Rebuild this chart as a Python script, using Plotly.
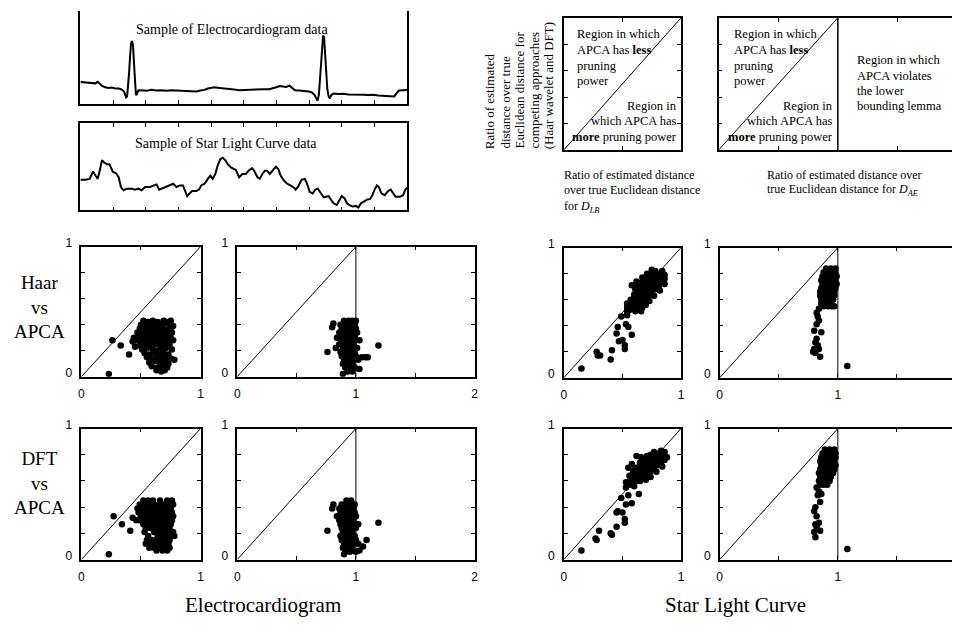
import plotly.graph_objects as go

# ---------------- sample time series ----------------
# time in samples, amplitude in arbitrary units
ecg_t = [0, 15, 30, 46, 53, 59, 66, 76, 86, 96, 106, 117, 127, 134, 140, 143, 146, 149, 152, 155,
         158, 161, 164, 167, 170, 173, 177, 187, 203, 218, 233, 248, 263, 279, 294, 309, 324, 339,
         355, 367, 380, 390, 400, 410, 426, 441, 456, 471, 486, 502, 517, 532, 547, 562, 578, 590,
         600, 610, 620, 630, 640, 648, 657, 669, 684, 699, 709, 717, 723, 726, 730, 733, 737, 740,
         743, 746, 749, 752, 756, 760, 764, 768, 775, 790, 805, 821, 836, 851, 866, 881, 897, 912,
         927, 942, 952, 961, 968, 975, 988, 1000]
ecg_v = [0.67, 0.66, 0.64, 0.63, 0.68, 0.61, 0.55, 0.51, 0.49, 0.50, 0.47, 0.47, 0.44, 0.37, 0.20,
         0.23, 0.50, 0.95, 1.45, 1.85, 1.93, 1.80, 1.25, 0.60, 0.27, 0.30, 0.41, 0.42, 0.40, 0.43,
         0.41, 0.42, 0.40, 0.42, 0.41, 0.39, 0.40, 0.37, 0.38, 0.41, 0.43, 0.47, 0.50, 0.51, 0.49,
         0.48, 0.45, 0.44, 0.42, 0.43, 0.42, 0.43, 0.44, 0.45, 0.45, 0.47, 0.51, 0.55, 0.54, 0.52,
         0.56, 0.49, 0.42, 0.41, 0.40, 0.38, 0.35, 0.27, 0.15, 0.10, 0.27, 0.70, 1.35, 1.85, 2.10,
         2.05, 1.65, 1.05, 0.45, 0.23, 0.17, 0.27, 0.32, 0.30, 0.31, 0.29, 0.29, 0.30, 0.28, 0.27,
         0.28, 0.26, 0.25, 0.23, 0.22, 0.23, 0.33, 0.41, 0.42, 0.43]

star_t = [0, 15, 28, 39, 46, 53, 59, 66, 73, 81, 89, 99, 109, 117, 124, 132, 142, 157, 167, 177,
          187, 198, 213, 228, 233, 241, 253, 268, 284, 294, 304, 314, 319, 327, 334, 342, 355, 363,
          370, 380, 390, 398, 405, 413, 420, 428, 436, 444, 451, 461, 476, 486, 496, 507, 515, 525,
          532, 542, 549, 557, 565, 572, 580, 588, 598, 606, 613, 623, 633, 643, 654, 659, 667, 677,
          687, 694, 702, 711, 719, 727, 735, 745, 752, 760, 768, 775, 785, 792, 800, 809, 816, 823,
          833, 843, 851, 859, 869, 879, 887, 894, 902, 908, 914, 922, 932, 942, 950, 957, 965, 978,
          988, 995, 1000]
star_v = [0.94, 0.94, 0.97, 1.20, 1.07, 0.97, 1.22, 1.54, 1.47, 1.42, 1.42, 1.19, 1.14, 1.02, 0.72,
          0.62, 0.67, 0.67, 0.64, 0.67, 0.62, 0.72, 0.72, 0.77, 0.80, 0.64, 0.70, 0.75, 0.82, 0.72,
          0.77, 0.77, 0.64, 0.44, 0.52, 0.60, 0.60, 0.64, 0.77, 0.82, 0.97, 1.07, 0.97, 1.12, 1.37,
          1.57, 1.62, 1.54, 1.42, 1.32, 1.24, 1.02, 1.12, 1.12, 1.22, 1.30, 1.22, 1.02, 0.97, 1.12,
          1.22, 1.22, 1.12, 1.22, 1.34, 1.27, 1.07, 0.92, 0.82, 0.77, 0.70, 0.64, 0.74, 0.94, 0.97,
          0.82, 0.57, 0.52, 0.64, 0.67, 0.54, 0.40, 0.42, 0.44, 0.32, 0.22, 0.17, 0.32, 0.44, 0.37,
          0.22, 0.17, 0.12, 0.14, 0.09, 0.22, 0.27, 0.34, 0.35, 0.47, 0.67, 0.77, 0.72, 0.52, 0.47,
          0.60, 0.64, 0.52, 0.42, 0.42, 0.47, 0.64, 0.70]

# ---------------- tightness ratios: (APCA ratio, competitor ratio) ----------------
ecg_haar_lb = [
    (0.26, 0.28), (0.33, 0.24), (0.23, 0.02), (0.40, 0.17), (0.45, 0.23), (0.43, 0.27), (0.44, 0.30), (0.78, 0.13),
    (0.52, 0.43), (0.56, 0.42), (0.60, 0.43), (0.64, 0.42), (0.69, 0.43), (0.72, 0.42), (0.75, 0.43),
    (0.50, 0.40), (0.54, 0.41), (0.58, 0.40), (0.62, 0.39), (0.66, 0.40), (0.70, 0.41), (0.74, 0.40), (0.77, 0.39),
    (0.49, 0.37), (0.53, 0.38), (0.57, 0.37), (0.60, 0.36), (0.64, 0.37), (0.68, 0.38), (0.71, 0.36), (0.75, 0.37),
    (0.47, 0.34), (0.51, 0.33), (0.55, 0.34), (0.59, 0.35), (0.62, 0.33), (0.66, 0.34), (0.69, 0.33), (0.73, 0.35), (0.76, 0.34),
    (0.48, 0.31), (0.52, 0.30), (0.56, 0.31), (0.60, 0.30), (0.64, 0.31), (0.67, 0.30), (0.71, 0.31), (0.75, 0.30),
    (0.46, 0.28), (0.50, 0.27), (0.54, 0.28), (0.58, 0.27), (0.61, 0.28), (0.65, 0.27), (0.69, 0.28), (0.73, 0.27), (0.77, 0.28),
    (0.49, 0.24), (0.53, 0.25), (0.57, 0.24), (0.62, 0.25), (0.66, 0.24), (0.70, 0.25), (0.74, 0.24),
    (0.51, 0.21), (0.55, 0.22), (0.60, 0.21), (0.63, 0.20), (0.67, 0.21), (0.71, 0.22), (0.76, 0.21),
    (0.53, 0.18), (0.57, 0.17), (0.62, 0.18), (0.65, 0.17), (0.69, 0.18), (0.73, 0.17),
    (0.55, 0.15), (0.59, 0.14), (0.64, 0.15), (0.68, 0.14), (0.71, 0.15), (0.75, 0.14),
    (0.57, 0.11), (0.62, 0.12), (0.66, 0.11), (0.70, 0.12), (0.73, 0.10),
    (0.59, 0.08), (0.64, 0.07), (0.68, 0.08), (0.72, 0.07),
    (0.63, 0.05), (0.67, 0.04), (0.70, 0.05),
    (0.54, 0.35), (0.61, 0.32), (0.68, 0.26), (0.58, 0.39), (0.65, 0.19), (0.72, 0.32), (0.56, 0.29),
]
ecg_haar_ae = [
    (0.76, 0.19), (1.19, 0.24), (1.05, 0.15), (1.08, 0.15), (1.10, 0.15), (0.80, 0.38), (0.81, 0.41),
    (0.84, 0.30), (0.83, 0.22), (1.03, 0.06),
    (0.90, 0.43), (0.94, 0.43), (0.97, 0.43), (1.00, 0.43),
    (0.87, 0.40), (0.91, 0.40), (0.95, 0.40), (0.99, 0.40),
    (0.88, 0.37), (0.92, 0.37), (0.96, 0.37), (1.00, 0.37),
    (0.86, 0.34), (0.90, 0.34), (0.93, 0.34), (0.97, 0.34), (1.01, 0.34),
    (0.87, 0.31), (0.91, 0.31), (0.95, 0.31), (0.99, 0.31),
    (0.88, 0.28), (0.92, 0.28), (0.96, 0.28), (1.00, 0.28), (1.03, 0.28),
    (0.86, 0.25), (0.90, 0.25), (0.94, 0.25), (0.98, 0.25),
    (0.89, 0.22), (0.93, 0.22), (0.97, 0.22), (1.01, 0.22),
    (0.87, 0.19), (0.91, 0.19), (0.95, 0.19), (0.99, 0.19),
    (0.88, 0.16), (0.92, 0.16), (0.96, 0.16), (1.00, 0.16),
    (0.90, 0.13), (0.94, 0.13), (0.98, 0.13), (1.02, 0.13),
    (0.89, 0.10), (0.93, 0.10), (0.97, 0.10),
    (0.91, 0.07), (0.95, 0.07), (0.99, 0.07),
    (0.93, 0.04), (0.97, 0.04), (0.89, 0.02),
]
slc_haar_lb = [
    (0.15, 0.07), (0.28, 0.20), (0.29, 0.17), (0.31, 0.17), (0.41, 0.21), (0.40, 0.14), (0.45, 0.34),
    (0.46, 0.39), (0.47, 0.28), (0.50, 0.29), (0.52, 0.25), (0.52, 0.22), (0.53, 0.41), (0.55, 0.39),
    (0.58, 0.33), (0.49, 0.47), (0.54, 0.48),
    (0.54, 0.51), (0.54, 0.54), (0.54, 0.57),
    (0.57, 0.53), (0.57, 0.56), (0.57, 0.60),
    (0.60, 0.53), (0.60, 0.57), (0.60, 0.61), (0.60, 0.64),
    (0.63, 0.56), (0.63, 0.60), (0.63, 0.63), (0.63, 0.67), (0.63, 0.71),
    (0.66, 0.58), (0.66, 0.62), (0.66, 0.66), (0.66, 0.69), (0.66, 0.73),
    (0.69, 0.60), (0.69, 0.64), (0.69, 0.67), (0.69, 0.71), (0.69, 0.75),
    (0.72, 0.63), (0.72, 0.66), (0.72, 0.70), (0.72, 0.73), (0.72, 0.77),
    (0.75, 0.65), (0.75, 0.69), (0.75, 0.72), (0.75, 0.76), (0.75, 0.80),
    (0.78, 0.68), (0.78, 0.71), (0.78, 0.75), (0.78, 0.78), (0.78, 0.82),
    (0.81, 0.70), (0.81, 0.74), (0.81, 0.77), (0.81, 0.80),
    (0.84, 0.73), (0.84, 0.76), (0.84, 0.79), (0.84, 0.82),
    (0.86, 0.76), (0.86, 0.79),
    (0.58, 0.71), (0.61, 0.68), (0.62, 0.62), (0.59, 0.60), (0.64, 0.54), (0.67, 0.54), (0.70, 0.56),
    (0.75, 0.83), (0.56, 0.52), (0.61, 0.51), (0.66, 0.51),
    (0.62, 0.74), (0.67, 0.77), (0.71, 0.80), (0.73, 0.59), (0.77, 0.63), (0.82, 0.67), (0.86, 0.72),
]
slc_haar_ae = [
    (0.90, 0.84), (0.94, 0.84), (0.98, 0.84),
    (0.88, 0.81), (0.91, 0.81), (0.95, 0.81), (0.98, 0.81),
    (0.87, 0.78), (0.90, 0.78), (0.93, 0.78), (0.96, 0.78), (0.99, 0.78),
    (0.86, 0.75), (0.89, 0.75), (0.92, 0.75), (0.95, 0.75), (0.98, 0.75),
    (0.87, 0.72), (0.90, 0.72), (0.93, 0.72), (0.96, 0.72), (0.99, 0.72),
    (0.86, 0.69), (0.89, 0.69), (0.92, 0.69), (0.95, 0.69), (0.98, 0.69),
    (0.85, 0.66), (0.88, 0.66), (0.91, 0.66), (0.94, 0.66), (0.97, 0.66),
    (0.85, 0.63), (0.88, 0.63), (0.91, 0.63), (0.94, 0.63), (0.97, 0.63),
    (0.86, 0.60), (0.89, 0.60), (0.92, 0.60), (0.96, 0.60),
    (0.86, 0.57), (0.89, 0.57), (0.93, 0.57),
    (0.88, 0.55), (0.92, 0.55), (0.95, 0.55), (0.97, 0.55),
    (0.82, 0.50), (0.84, 0.44), (0.82, 0.41), (0.80, 0.36), (0.86, 0.35), (0.82, 0.30), (0.81, 0.27),
    (0.83, 0.25), (0.80, 0.22), (0.84, 0.22), (0.79, 0.20), (0.81, 0.19), (0.85, 0.16), (0.84, 0.53),
    (0.83, 0.47), (1.08, 0.09),
]
ecg_dft_lb = [
    (0.27, 0.33), (0.34, 0.27), (0.23, 0.04), (0.41, 0.22), (0.43, 0.32), (0.46, 0.30), (0.78, 0.18),
    (0.52, 0.45), (0.56, 0.45), (0.60, 0.45), (0.66, 0.45), (0.72, 0.45), (0.76, 0.45),
    (0.49, 0.42), (0.53, 0.42), (0.57, 0.42), (0.61, 0.42), (0.65, 0.42), (0.69, 0.42), (0.73, 0.42), (0.77, 0.42),
    (0.47, 0.39), (0.51, 0.39), (0.55, 0.39), (0.59, 0.39), (0.63, 0.39), (0.67, 0.39), (0.71, 0.39), (0.75, 0.39),
    (0.48, 0.36), (0.52, 0.36), (0.56, 0.36), (0.60, 0.36), (0.64, 0.36), (0.68, 0.36), (0.72, 0.36), (0.76, 0.36),
    (0.50, 0.33), (0.54, 0.33), (0.58, 0.33), (0.62, 0.33), (0.65, 0.33), (0.69, 0.33), (0.73, 0.33), (0.77, 0.33),
    (0.49, 0.30), (0.53, 0.30), (0.57, 0.30), (0.61, 0.30), (0.64, 0.30), (0.68, 0.30), (0.72, 0.30), (0.76, 0.30),
    (0.52, 0.27), (0.56, 0.27), (0.60, 0.27), (0.63, 0.27), (0.67, 0.27), (0.71, 0.27), (0.75, 0.27),
    (0.54, 0.24), (0.58, 0.24), (0.62, 0.24), (0.66, 0.24), (0.70, 0.24), (0.74, 0.24),
    (0.53, 0.21), (0.61, 0.21), (0.65, 0.21), (0.69, 0.21), (0.73, 0.21), (0.77, 0.21),
    (0.56, 0.18), (0.64, 0.18), (0.67, 0.18), (0.71, 0.18), (0.75, 0.18),
    (0.55, 0.15), (0.59, 0.15), (0.63, 0.15), (0.66, 0.15), (0.70, 0.15), (0.74, 0.15),
    (0.54, 0.12), (0.58, 0.12), (0.62, 0.12), (0.66, 0.12), (0.69, 0.12), (0.73, 0.12),
    (0.57, 0.09), (0.61, 0.09), (0.65, 0.09), (0.70, 0.09), (0.74, 0.09),
    (0.63, 0.07), (0.68, 0.07), (0.72, 0.07),
    (0.55, 0.31), (0.62, 0.37), (0.70, 0.35), (0.66, 0.28), (0.59, 0.26), (0.72, 0.13),
]
ecg_dft_ae = [
    (0.76, 0.22), (1.19, 0.28), (1.09, 0.15), (1.03, 0.07), (0.80, 0.39), (0.81, 0.42), (0.84, 0.33), (1.06, 0.10),
    (0.92, 0.45), (0.96, 0.45),
    (0.88, 0.42), (0.92, 0.42), (0.95, 0.42), (0.99, 0.42),
    (0.86, 0.39), (0.90, 0.39), (0.94, 0.39), (0.98, 0.39),
    (0.87, 0.36), (0.91, 0.36), (0.95, 0.36), (0.99, 0.36),
    (0.88, 0.33), (0.92, 0.33), (0.96, 0.33), (1.00, 0.33),
    (0.86, 0.30), (0.90, 0.30), (0.94, 0.30), (0.98, 0.30),
    (0.87, 0.27), (0.91, 0.27), (0.95, 0.27), (0.99, 0.27), (1.02, 0.27),
    (0.88, 0.24), (0.92, 0.24), (0.96, 0.24), (1.00, 0.24),
    (0.89, 0.21), (0.93, 0.21), (0.97, 0.21),
    (0.87, 0.18), (0.91, 0.18), (0.95, 0.18), (0.99, 0.18),
    (0.88, 0.15), (0.92, 0.15), (0.96, 0.15), (1.00, 0.15),
    (0.90, 0.12), (0.94, 0.12), (0.98, 0.12), (1.02, 0.12),
    (0.89, 0.09), (0.93, 0.09), (0.97, 0.09),
    (0.91, 0.06), (0.95, 0.06), (1.00, 0.06),
    (0.90, 0.04),
]
slc_dft_lb = [
    (0.15, 0.07), (0.27, 0.16), (0.28, 0.15), (0.30, 0.22), (0.40, 0.20), (0.41, 0.19), (0.45, 0.25),
    (0.52, 0.31), (0.52, 0.28), (0.46, 0.37), (0.45, 0.36), (0.50, 0.36), (0.53, 0.42), (0.58, 0.43),
    (0.49, 0.47), (0.55, 0.49), (0.64, 0.50),
    (0.53, 0.55), (0.53, 0.59),
    (0.56, 0.57), (0.56, 0.60), (0.56, 0.64),
    (0.59, 0.58), (0.59, 0.62), (0.59, 0.65), (0.59, 0.68),
    (0.62, 0.60), (0.62, 0.63), (0.62, 0.67), (0.62, 0.70),
    (0.65, 0.60), (0.65, 0.64), (0.65, 0.67), (0.65, 0.71), (0.65, 0.74),
    (0.68, 0.62), (0.68, 0.66), (0.68, 0.69), (0.68, 0.73), (0.68, 0.76),
    (0.71, 0.65), (0.71, 0.68), (0.71, 0.72), (0.71, 0.75),
    (0.74, 0.67), (0.74, 0.70), (0.74, 0.74), (0.74, 0.77), (0.74, 0.80),
    (0.77, 0.69), (0.77, 0.72), (0.77, 0.76), (0.77, 0.79), (0.77, 0.82),
    (0.80, 0.72), (0.80, 0.75), (0.80, 0.78), (0.80, 0.81),
    (0.83, 0.74), (0.83, 0.77), (0.83, 0.80), (0.83, 0.83),
    (0.86, 0.76), (0.86, 0.79), (0.86, 0.82),
    (0.88, 0.78),
    (0.62, 0.79), (0.58, 0.73), (0.55, 0.70), (0.60, 0.56), (0.70, 0.61),
    (0.66, 0.78), (0.71, 0.79), (0.74, 0.63), (0.79, 0.67), (0.84, 0.71),
]
slc_dft_ae = [
    (0.89, 0.84), (0.93, 0.84), (0.97, 0.84),
    (0.87, 0.81), (0.90, 0.81), (0.94, 0.81), (0.98, 0.81),
    (0.86, 0.78), (0.89, 0.78), (0.92, 0.78), (0.95, 0.78), (0.98, 0.78),
    (0.85, 0.75), (0.88, 0.75), (0.91, 0.75), (0.94, 0.75), (0.97, 0.75),
    (0.86, 0.72), (0.89, 0.72), (0.92, 0.72), (0.95, 0.72), (0.98, 0.72),
    (0.85, 0.69), (0.88, 0.69), (0.91, 0.69), (0.94, 0.69), (0.97, 0.69),
    (0.84, 0.66), (0.87, 0.66), (0.90, 0.66), (0.93, 0.66), (0.96, 0.66),
    (0.85, 0.63), (0.88, 0.63), (0.91, 0.63), (0.94, 0.63),
    (0.84, 0.60), (0.87, 0.60), (0.90, 0.60), (0.93, 0.60),
    (0.85, 0.57), (0.88, 0.57), (0.91, 0.57),
    (0.82, 0.55), (0.83, 0.49), (0.85, 0.44), (0.81, 0.40), (0.80, 0.37), (0.82, 0.33), (0.84, 0.28),
    (0.81, 0.27), (0.82, 0.25), (0.80, 0.21), (0.85, 0.22), (0.81, 0.17), (0.86, 0.50), (0.84, 0.52),
    (1.08, 0.08),
]

# reference lines inside the ratio panels
diag_x, diag_y = [0, 1], [0, 1]
bound_x, bound_y = [1, 1], [0, 1]

# ---------------- layout helpers ----------------
W, H = 956, 631
SERIF = "Liberation Serif, Times New Roman, serif"
SANS = "Liberation Sans, Arial, sans-serif"

fig = go.Figure()


def sfx(n):
    return "" if n == 1 else str(n)


def axis_style(major, minor_step, labels, mirror, standoff, shift=0, ticks="inside"):
    style = dict(showline=True, linecolor="black", linewidth=1.5, ticklen=4, tickwidth=1,
                 tickcolor="black", showgrid=False, zeroline=False, fixedrange=True,
                 tickfont=dict(family=SANS, size=12, color="black"), tickmode="array",
                 tickvals=major, ticks=ticks, mirror=mirror, showticklabels=labels)
    if labels:
        style.update(ticktext=[f"{v:g}" for v in major], ticklabelstandoff=standoff,
                     ticklabelshift=shift)
    if minor_step:
        style["minor"] = dict(ticks="inside", ticklen=4, tickwidth=1, tickcolor="black",
                              dtick=minor_step, tick0=0, showgrid=False)
    return style


def set_axes(n, box, xrange, yrange, xmajor, xminor, ymajor, yminor, labels=True,
             xmirror="ticks", ymirror="ticks", yticks="inside", xstand=5):
    x0, x1, y0, y1 = box
    s = sfx(n)
    xa = axis_style(xmajor, xminor, labels, xmirror, xstand)
    ya = axis_style(ymajor, yminor, labels, ymirror, 5, shift=-4, ticks=yticks)
    xa.update(domain=[x0 / W, min(x1 / W, 1)], range=xrange, anchor="y" + s)
    ya.update(domain=[1 - y1 / H, min(1 - y0 / H, 1)], range=yrange, anchor="x" + s)
    fig.update_layout(**{"xaxis" + s: xa, "yaxis" + s: ya})


def add_line(n, xs, ys, width=1.0):
    fig.add_trace(go.Scatter(x=xs, y=ys, mode="lines", line=dict(color="black", width=width),
                             xaxis="x" + sfx(n), yaxis="y" + sfx(n), hoverinfo="skip"))


def add_points(n, pts):
    fig.add_trace(go.Scatter(x=[p[0] for p in pts], y=[p[1] for p in pts], mode="markers",
                             marker=dict(size=6.5, color="black", line=dict(width=0)),
                             xaxis="x" + sfx(n), yaxis="y" + sfx(n)))


def note(text, x, y, size, xanchor="left", yanchor="middle", family=SERIF, angle=0):
    fig.add_annotation(text=text, x=x / W, y=1 - y / H, xref="paper", yref="paper",
                       xanchor=xanchor, yanchor=yanchor, showarrow=False, textangle=angle,
                       font=dict(family=family, size=size, color="black"))


# ---------------- sample series panels ----------------
set_axes(1, (78, 407, -2, 95), [0, 1000], [0, 2.85], [0, 1000], 100, [], None, labels=False,
         xmirror=False, ymirror=True, yticks="")
add_line(1, ecg_t, ecg_v, 2)
set_axes(2, (78, 407, 115, 204), [0, 1000], [0, 2.67], [0, 1000], 100, [], None, labels=False,
         xmirror="ticks", ymirror=True, yticks="")
add_line(2, star_t, star_v, 2)

# ---------------- explanatory panels ----------------
set_axes(3, (565, 683, 7, 142), [0, 1], [0, 1], [0, 1], 0.5, [0, 1], 0.2, labels=False)
add_line(3, diag_x, diag_y, 1)
set_axes(4, (721, 956, 7, 142), [0, (956 - 721) / 120], [0, 1], [0, 1, 2], 0.5, [0, 1], 0.2,
         labels=False, ymirror=False)
add_line(4, diag_x, diag_y, 1)
add_line(4, bound_x, bound_y, 1.5)

# ---------------- ratio scatter panels ----------------
panels = [
    (5, (79, 199, 241, 374), "lb", ecg_haar_lb, False),
    (6, (236, 475, 241, 374), "ae", ecg_haar_ae, False),
    (7, (565, 683, 242, 375), "lb", slc_haar_lb, False),
    (8, (722, 956, 242, 375), "ae", slc_haar_ae, True),
    (9, (79, 199, 427, 561), "lb", ecg_dft_lb, False),
    (10, (236, 475, 427, 561), "ae", ecg_dft_ae, False),
    (11, (565, 683, 427, 561), "lb", slc_dft_lb, False),
    (12, (722, 956, 427, 561), "ae", slc_dft_ae, True),
]
for n, box, kind, pts, cut in panels:
    if kind == "lb":
        xr, xmajor = [0, 1], [0, 1]
    else:
        xr = [0, (956 - box[0]) / 119] if cut else [0, 2]
        xmajor = [0, 1, 2]
    set_axes(n, box, xr, [0, 1], xmajor, 0.5, [0, 1], 0.2, ymirror=False if cut else "ticks")
    add_line(n, diag_x, diag_y, 1)
    if kind == "ae":
        add_line(n, bound_x, bound_y, 1)
    add_points(n, pts)

# ---------------- text ----------------
note("Sample of Electrocardiogram data", 132, 19, 14)
note("Sample of Star Light Curve data", 131, 135, 14)

for xc, line in zip([490, 506, 520, 535, 549],
                    ["Ratio of estimated", "distance over true", "Euclidean distance for",
                     "competing approaches", "(Haar wavelet and DFT)"]):
    note(line, xc, 143, 13, xanchor="center", yanchor="bottom", angle=-90)

less_lines = ["Region in which", "APCA has <b>less</b>", "pruning", "power"]
more_lines = ["Region in", "which APCA has", "<b>more</b> pruning power"]
for left, right in [(576, 681), (734, 838)]:
    for yc, line in zip([24, 40, 56, 72], less_lines):
        note(line, left, yc, 12.5)
    for yc, line in zip([97, 113, 129], more_lines):
        note(line, right, yc, 12.5, xanchor="right")
for yc, line in zip([50, 66, 82, 97], ["Region in which", "APCA violates", "the lower", "bounding lemma"]):
    note(line, 858, yc, 12.5)

for yc, line in zip([168, 183, 200], ["Ratio of estimated distance", "over true Euclidean distance",
                                      "for <i>D</i><sub><i>LB</i></sub>"]):
    note(line, 563, yc, 12)
for yc, line in zip([168, 183], ["Ratio of estimated distance over",
                                 "true Euclidean distance for <i>D</i><sub><i>AE</i></sub>"]):
    note(line, 768, yc, 12)

note("Haar<br>vs<br>APCA", 37, 303, 19, xanchor="center")
note("DFT<br>vs<br>APCA", 37, 483, 19, xanchor="center")

note("Electrocardiogram", 262, 607, 21, xanchor="center")
note("Star Light Curve", 738, 607, 21, xanchor="center")

fig.update_layout(width=W, height=H, margin=dict(l=0, r=0, t=0, b=0), showlegend=False,
                  paper_bgcolor="white", plot_bgcolor="white")

fig.write_html("out.html")
